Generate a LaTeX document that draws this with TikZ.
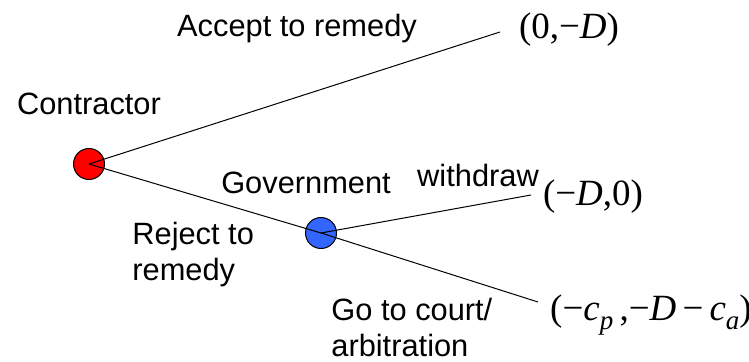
\documentclass[tikz,border=0pt]{standalone}
\usepackage{fontspec}
\setmainfont{Liberation Sans}
\newfontfamily\tnr{Liberation Serif}
\newcommand{\lowsub}[1]{\raisebox{-0.5ex}{\fontsize{13.5}{13.5}\selectfont\itshape #1}}
\definecolor{govblue}{RGB}{51,102,255}

\begin{document}
\begin{tikzpicture}[x=0.5pt,y=-0.5pt,
  move/.style={font=\fontsize{15.4}{18}\selectfont},
  pay/.style={font=\tnr\fontsize{18.5}{20}\selectfont},
  player/.style={circle,draw,line width=0.5pt,inner sep=0pt,minimum size=15.5pt}]
\useasboundingbox (0,0) rectangle (749,362);
% players
\node [player,fill=red] (con) at (89,164) {};
\node [player,fill=govblue] (gov) at (321,233) {};
\node [move] (conlab) at (89,104) {Contractor};
\node [move] (govlab) at (306,183) {Government};
% moves
\node [move] (acc) at (297,29) {Accept to remedy};
\node [move,align=left,anchor=north west,inner sep=0pt] (rej) at (132,222) {Reject to\\remedy};
\node [move] (wd) at (478,175) {withdraw};
\node [move,align=left,anchor=north west,inner sep=0pt] (court) at (331,298) {Go to court/\\arbitration};
% payoffs
\node [pay] (pacc) at (569,30) {(0,−\textit{D})};
\node [pay] (pwd) at (593,197) {(−\textit{D},0)};
\node [pay] (pcourt) at (651,315) {(−\textit{c}\lowsub{p}\,,−\textit{D}\,−\,\textit{c}\lowsub{a})};
\coordinate (eacc) at (500,32);
\coordinate (ewd) at (531,195);
\coordinate (ecourt) at (538,302);
% branches
\draw [line width=0.5pt] (con.center) -- (eacc);
\draw [line width=0.5pt] (con.center) -- (gov.center);
\draw [line width=0.5pt] (gov.center) -- (ewd);
\draw [line width=0.5pt] (gov.center) -- (ecourt);
\end{tikzpicture}
\end{document}
